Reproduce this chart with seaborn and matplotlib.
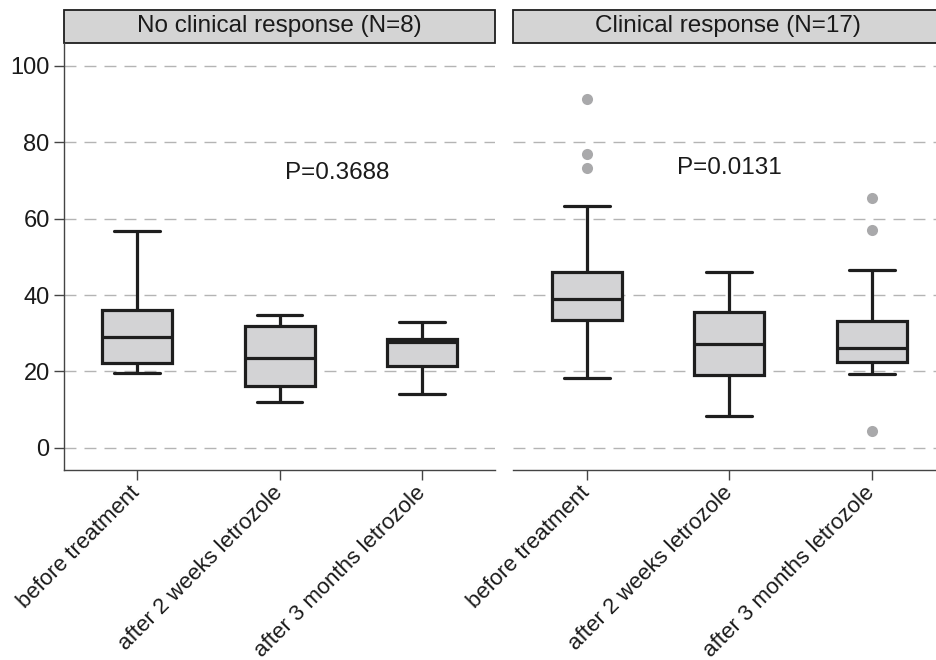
import pandas as pd
import matplotlib
matplotlib.use("Agg")
import matplotlib.pyplot as plt
import seaborn as sns
from matplotlib.patches import Rectangle

# Time points (x categories)
times = ["before treatment", "after 2 weeks letrozole", "after 3 months letrozole"]

# Panel titles and p-values
groups = ["No clinical response (N=8)", "Clinical response (N=17)"]
p_values = ["P=0.3688", "P=0.0131"]

# No clinical response, N=8 per time point
no_resp_before = [19.7, 21.5, 22.3, 27.0, 30.8, 35.0, 39.8, 56.8]
no_resp_2wk = [12.1, 15.0, 16.6, 21.8, 25.0, 31.6, 33.2, 34.9]
no_resp_3mo = [14.1, 20.6, 21.8, 27.4, 28.0, 28.2, 29.0, 33.0]

# Clinical response, N=17 per time point
resp_before = [18.2, 24.5, 29.0, 31.8, 33.4, 35.2, 36.9, 38.1, 39.0,
               40.6, 42.8, 44.5, 46.1, 63.3, 73.2, 77.0, 91.3]
resp_2wk = [8.3, 11.9, 14.6, 17.2, 19.0, 21.3, 23.5, 25.8, 27.1,
            29.4, 31.7, 33.9, 35.6, 38.2, 40.9, 43.5, 46.0]
resp_3mo = [4.4, 19.3, 20.4, 21.7, 22.6, 23.5, 24.4, 25.3, 26.1,
            27.8, 29.6, 31.5, 33.3, 39.0, 46.5, 57.0, 65.5]

rows = []
for grp, series in zip(groups, [[no_resp_before, no_resp_2wk, no_resp_3mo],
                                [resp_before, resp_2wk, resp_3mo]]):
    for t, vals in zip(times, series):
        for v in vals:
            rows.append({"group": grp, "time": t, "value": v})
df = pd.DataFrame(rows)

sns.set_theme(style="white")
plt.rcParams["font.family"] = ["Liberation Sans", "DejaVu Sans"]

fig = plt.figure(figsize=(9.36, 6.6), dpi=100)
ax1 = fig.add_axes([0.0687, 0.2879, 0.4602, 0.6470])
ax2 = fig.add_axes([0.5484, 0.2879, 0.4516, 0.6470])

dark = "#1e1e1e"
box_grey = "#d3d3d5"
p_pos = [(1.40, 72.0), (1.0, 73.2)]
xlims = [(-0.51, 2.51), (-0.515, 2.45)]

for i, (ax, grp) in enumerate(zip([ax1, ax2], groups)):
    sub = df[df["group"] == grp]
    ax.set_axisbelow(True)
    ax.yaxis.grid(True, color="#b4b4b4", linewidth=1.0, linestyle=(0, (8.6, 5.8)))
    sns.boxplot(data=sub, x="time", y="value", order=times, ax=ax,
                color=box_grey, saturation=1, width=0.49, linewidth=2.3,
                linecolor=dark, capwidths=0.32,
                flierprops=dict(marker="o", markerfacecolor="#a9a9ab",
                                markeredgecolor="none", markersize=8))
    ax.set_xlim(*xlims[i])
    ax.set_ylim(-5.8, 106)
    ax.set_yticks([0, 20, 40, 60, 80, 100])
    ax.set_xlabel("")
    ax.set_ylabel("")
    ax.tick_params(axis="both", which="both", direction="out", length=7,
                   width=1.0, color="#444444", labelsize=17, labelcolor="#1a1a1a",
                   bottom=True, left=(i == 0))
    ax.tick_params(axis="x", labelsize=16, pad=7)
    for lab in ax.get_xticklabels():
        lab.set_rotation(45)
        lab.set_ha("right")
        lab.set_va("center")
        lab.set_rotation_mode("anchor")
    for side in ["top", "right"]:
        ax.spines[side].set_visible(False)
    ax.spines["bottom"].set_color("#444444")
    ax.spines["bottom"].set_linewidth(1.0)
    if i == 0:
        ax.spines["left"].set_color("#444444")
        ax.spines["left"].set_linewidth(1.0)
    else:
        ax.spines["left"].set_visible(False)
        ax.set_yticklabels([])

    # p-value annotation
    ax.text(p_pos[i][0], p_pos[i][1], p_values[i], ha="center", va="center",
            fontsize=17.5, color="#1a1a1a")

    # facet strip
    strip = Rectangle((0, 1.0), 1.0 if i == 0 else 1.01, 0.078, transform=ax.transAxes,
                      facecolor="#d4d4d4", edgecolor=dark, linewidth=1.3,
                      clip_on=False)
    ax.add_patch(strip)
    ax.text(0.5 if i == 0 else 0.508, 1.039, grp, transform=ax.transAxes,
            ha="center", va="center", fontsize=17.5, color="#1a1a1a")

fig.savefig("out.png", dpi=100)
